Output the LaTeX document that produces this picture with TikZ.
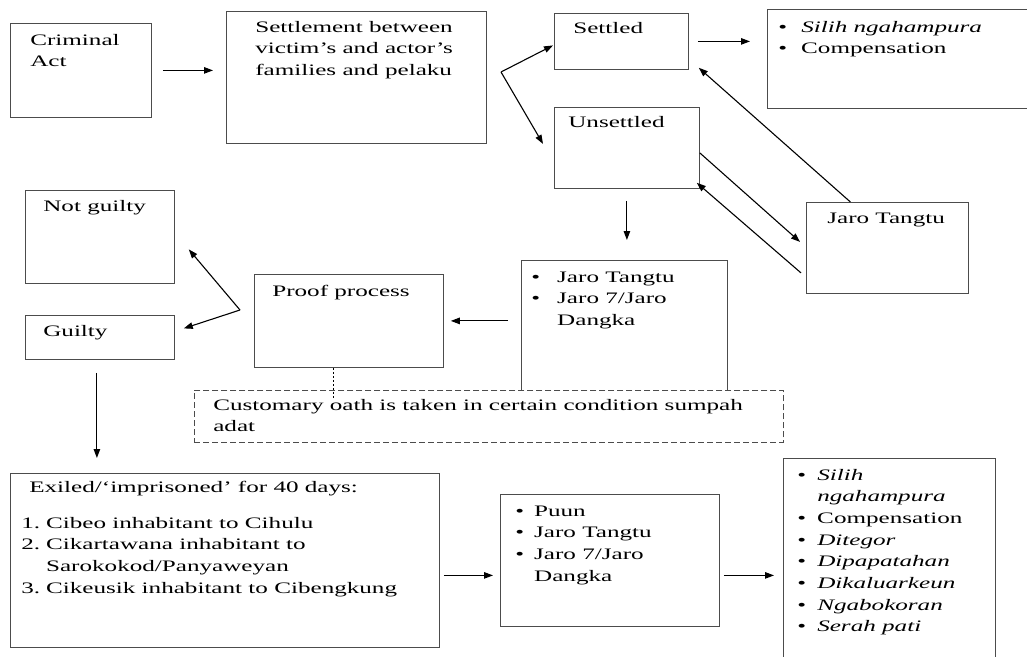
\documentclass[tikz,border=0pt]{standalone}
\usepackage{fontspec}
\setmainfont{Liberation Serif}
\usepackage{tikz}
\usetikzlibrary{arrows.meta}

\newcommand{\rows}[1]{\begin{tabular}[t]{@{}l@{}}#1\end{tabular}}
\newcommand{\bul}[2]{\begin{tabular}[t]{@{}l@{\hspace{#1}}l@{}}#2\end{tabular}}

\begin{document}
\begin{tikzpicture}[x=1pt, y=-1pt,
    box/.style={draw=black!70, line width=0.8pt, inner sep=0pt, anchor=north west},
    txt/.style={anchor=base west, inner sep=0pt, xscale=1.57, font=\fontsize{16}{21.7}\selectfont},
    arr/.style={line width=1.1pt, -{Triangle[length=9pt,width=6.5pt]}}]
    \useasboundingbox (0,0) rectangle (1027,656);
    \path
        node (crim) at (10,23) [box, minimum width=141pt, minimum height=94pt] {}
        node (settle) at (226,11) [box, minimum width=260pt, minimum height=132pt] {}
        node (settled) at (554,13) [box, minimum width=134pt, minimum height=56pt] {}
        node (silih) at (767,9) [box, minimum width=280pt, minimum height=99pt] {}
        node (unset) at (554,107) [box, minimum width=145pt, minimum height=81pt] {}
        node (jtR) at (806,202) [box, minimum width=162pt, minimum height=91pt] {}
        node (jlist) at (521,260) [box, minimum width=206pt, minimum height=140pt] {}
        node (proof) at (254,274) [box, minimum width=189pt, minimum height=93pt] {}
        node (notg) at (25,190) [box, minimum width=149pt, minimum height=93pt] {}
        node (guilty) at (25,315) [box, minimum width=149pt, minimum height=44pt] {}
        node (oath) at (194,390) [box, fill=white, dash pattern=on 6pt off 3pt, minimum width=589pt, minimum height=52pt] {}
        node (exiled) at (10,473) [box, minimum width=429pt, minimum height=174pt] {}
        node (puun) at (500,494) [box, minimum width=219pt, minimum height=132pt] {}
        node (final) at (783,458) [box, minimum width=212pt, minimum height=210pt] {};
    \path
        node (crimT) at (30,45) [txt] {\rows{Criminal\\Act}}
        node (settleT) at (255,32) [txt] {\rows{Settlement between\\victim's and actor's\\families and pelaku}}
        node (settledT) at (573,33) [txt] {Settled}
        node (silihT) at (778,32) [txt] {\bul{9pt}{\textbullet & \textit{Silih ngahampura}\\ \textbullet & Compensation}}
        node (unsetT) at (568,127) [txt] {Unsettled}
        node (jtRT) at (827,223) [txt] {Jaro Tangtu}
        node (jlistT) at (531,282) [txt] {\bul{10.9pt}{\textbullet & Jaro Tangtu\\ \textbullet & Jaro 7/Jaro\\ & Dangka}}
        node (proofT) at (272,296) [txt] {Proof process}
        node (notgT) at (43,211) [txt] {Not guilty}
        node (guiltyT) at (43,336) [txt] {Guilty}
        node (oathT) at (213,410) [txt] {\rows{Customary oath is taken in certain condition sumpah\\adat}}
        node (exiledT) at (29,492) [txt] {Exiled/`imprisoned' for 40 days:}
        node (placesT) at (21,528) [txt] {\bul{3.8pt}{1. & Cibeo inhabitant to Cihulu\\ 2. & Cikartawana inhabitant to\\ & Sarokokod/Panyaweyan\\ 3. & Cikeusik inhabitant to Cibengkung}}
        node (puunT) at (515,516) [txt] {\bul{6.4pt}{\textbullet & Puun\\ \textbullet & Jaro Tangtu\\ \textbullet & Jaro 7/Jaro\\ & Dangka}}
        node (finalT) at (797,480) [txt] {\bul{7.1pt}{\textbullet & \textit{Silih}\\ & \textit{ngahampura}\\ \textbullet & Compensation\\ \textbullet & \textit{Ditegor}\\ \textbullet & \textit{Dipapatahan}\\ \textbullet & \textit{Dikaluarkeun}\\ \textbullet & \textit{Ngabokoran}\\ \textbullet & \textit{Serah pati}}};
    \coordinate (split) at (501,72);
    \coordinate (pick) at (240,310);
    \draw[arr] ([xshift=11pt]crim.east) -- ([xshift=-13pt]crim.east -| settle.west);
    \draw[arr] (split) -- ([xshift=-1pt,yshift=-4pt]settled.west);
    \draw[arr] (split) -- ([xshift=-11pt,yshift=4pt]unset.west);
    \draw[arr] ([xshift=9pt]settled.east) -- ([xshift=-17pt]settled.east -| silih.west);
    \draw[arr] ([xshift=-37pt]jtR.north) -- ([xshift=10pt,yshift=2pt]settled.south east);
    \draw[arr] ([yshift=-5pt]unset.east) -- ([xshift=-6pt,yshift=6pt]jtR.west);
    \draw[arr] ([xshift=-5pt,yshift=-25pt]jtR.west) -- ([xshift=-3pt,yshift=6pt]unset.south east);
    \draw[arr] ([yshift=-12pt]unset.south) -- ([yshift=20pt]unset.south |- jlist.north);
    \draw[arr] ([xshift=-13pt]proof.east -| jlist.west) -- ([xshift=7pt]proof.east);
    \draw[arr] (pick) -- ([xshift=14pt,yshift=-12.5pt]notg.east);
    \draw[arr] (pick) -- ([xshift=9pt,yshift=9pt]guilty.east);
    \draw[arr] ([xshift=-3pt,yshift=-13pt]guilty.south) -- ([xshift=-3pt,yshift=15pt]guilty.south |- exiled.north);
    \draw[arr] ([xshift=4pt,yshift=-15pt]exiled.east) -- ([xshift=-7pt,yshift=-15pt]exiled.east -| puun.west);
    \draw[arr] ([xshift=4pt,yshift=-15pt]puun.east) -- ([xshift=-9pt,yshift=-15pt]puun.east -| final.west);
    \draw[line width=0.8pt, dash pattern=on 2pt off 2pt] ([xshift=-16pt]proof.south) -- ([xshift=-16pt,yshift=-30pt]proof.south);
\end{tikzpicture}
\end{document}
